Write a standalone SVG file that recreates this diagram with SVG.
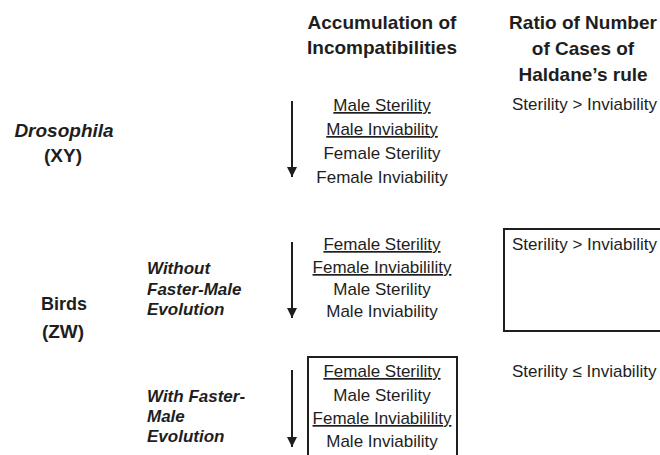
<svg xmlns="http://www.w3.org/2000/svg" width="660" height="455" viewBox="0 0 660 455">
<defs>
<style>
text{font-family:"Liberation Sans",Arial,sans-serif;fill:#1e1e1e}
.h{font-size:19px;font-weight:bold;text-anchor:middle}
.lab{font-size:19px;font-weight:bold;text-anchor:middle}
.it{font-style:italic}
.sub{font-size:17px;font-weight:bold;font-style:italic}
.item{font-size:17px;text-anchor:middle}
.u{text-decoration:underline}
.ratio{font-size:17px}
.box{fill:none;stroke:#1e1e1e;stroke-width:2}
.arr{stroke:#1e1e1e;stroke-width:2;fill:none;marker-end:url(#ah)}
</style>
<marker id="ah" viewBox="0 0 10 10" refX="10" refY="5" markerWidth="5" markerHeight="5" orient="auto" markerUnits="strokeWidth">
<path d="M0,0 L10,5 L0,10 Z" fill="#1e1e1e"/>
</marker>
</defs>
<rect width="660" height="455" fill="#fff"/>
<g id="header-accumulation">
<text class="h" x="382" y="29">Accumulation of</text>
<text class="h" x="382" y="54">Incompatibilities</text>
</g>
<g id="header-ratio">
<text class="h" x="583" y="29">Ratio of Number</text>
<text class="h" x="583" y="55">of Cases of</text>
<text class="h" x="583" y="81">Haldane’s rule</text>
</g>
<g id="drosophila-label">
<text class="lab it" x="64" y="137">Drosophila</text>
<text class="lab" x="63" y="162">(XY)</text>
</g>
<g id="drosophila-list">
<text class="item u" x="382" y="111">Male Sterility</text>
<text class="item u" x="382" y="135">Male Inviability</text>
<text class="item" x="382" y="159">Female Sterility</text>
<text class="item" x="382" y="183">Female Inviability</text>
</g>
<g id="drosophila-ratio">
<text class="ratio" x="512" y="110">Sterility &gt; Inviability</text>
</g>
<g id="birds-label">
<text class="lab" x="64" y="310" style="font-size:18px">Birds</text>
<text class="lab" x="63" y="338">(ZW)</text>
</g>
<g id="without-label">
<text class="sub" x="147" y="274">Without</text>
<text class="sub" x="147" y="295">Faster-Male</text>
<text class="sub" x="147" y="315">Evolution</text>
</g>
<g id="without-list">
<text class="item u" x="382" y="250">Female Sterility</text>
<text class="item u" x="382" y="273">Female Inviabilility</text>
<text class="item" x="382" y="295">Male Sterility</text>
<text class="item" x="382" y="317">Male Inviability</text>
</g>
<g id="without-ratio">
<rect class="box" x="504" y="229" width="170" height="102"/>
<text class="ratio" x="512" y="250">Sterility &gt; Inviability</text>
</g>
<g id="with-label">
<text class="sub" x="147" y="402">With Faster-</text>
<text class="sub" x="147" y="422">Male</text>
<text class="sub" x="147" y="442">Evolution</text>
</g>
<g id="with-list">
<rect class="box" x="308" y="357" width="149" height="110"/>
<text class="item u" x="382" y="377">Female Sterility</text>
<text class="item" x="382" y="401">Male Sterility</text>
<text class="item u" x="382" y="424">Female Inviabilility</text>
<text class="item" x="382" y="447">Male Inviability</text>
</g>
<g id="with-ratio">
<text class="ratio" x="512" y="377">Sterility ≤ Inviability</text>
</g>
<g id="connectors">
<line class="arr" x1="292" y1="101" x2="292" y2="177"/>
<line class="arr" x1="292" y1="242" x2="292" y2="318"/>
<line class="arr" x1="292" y1="370" x2="292" y2="447"/>
</g>
</svg>
